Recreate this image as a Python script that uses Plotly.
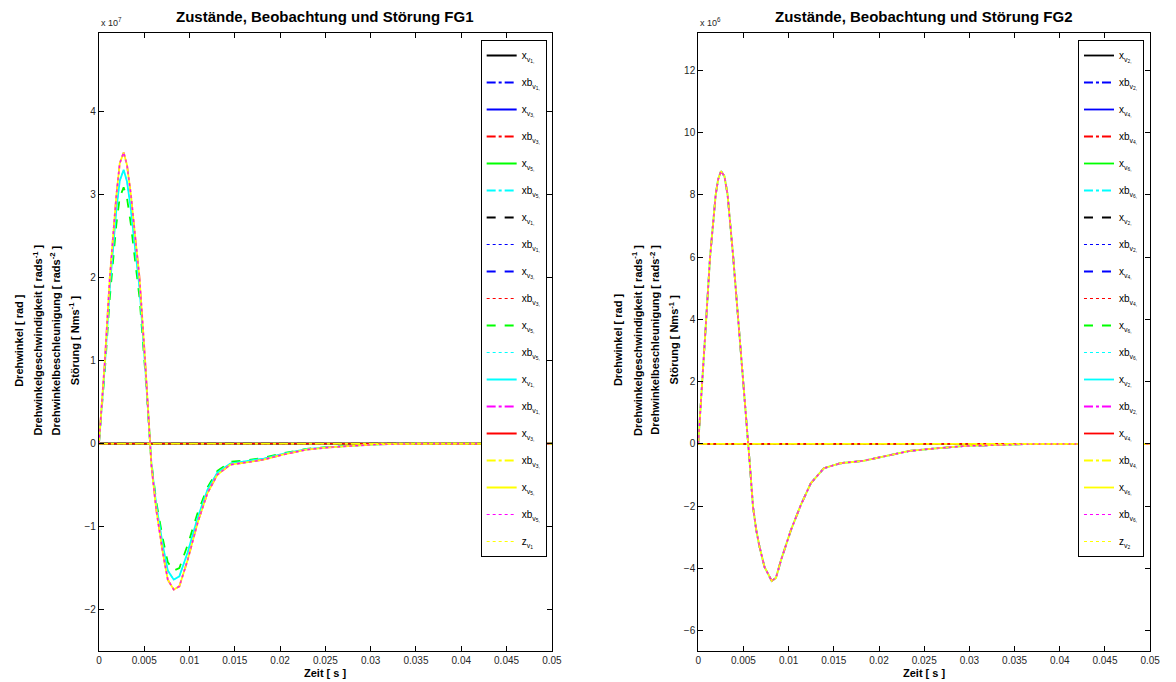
import plotly.graph_objects as go

# ---------------- data ----------------
# FG1 (values in units of 1e7)
t_fg1 = [0, 0.0003, 0.00066, 0.0012, 0.0015, 0.00193, 0.0023, 0.00273, 0.0031, 0.00353,
         0.004, 0.00448, 0.0051, 0.00562, 0.0058, 0.00633, 0.00706, 0.0076, 0.00826, 0.00888,
         0.0098, 0.01088, 0.01197, 0.01307, 0.0145, 0.0163, 0.0182, 0.0203, 0.0229, 0.0254,
         0.0284, 0.0305, 0.035, 0.05]
big_fg1 = [0, 0.45, 1.0, 2.0, 2.45, 3.0, 3.38, 3.51, 3.36, 3.0,
           2.5, 2.0, 1.0, 0, -0.27, -0.80, -1.32, -1.64, -1.76, -1.72,
           -1.40, -0.96, -0.60, -0.375, -0.254, -0.226, -0.193, -0.133, -0.073, -0.045,
           -0.024, -0.01, 0, 0]
cyan_fg1 = [0, 0.43, 0.95, 1.88, 2.31, 2.83, 3.17, 3.30, 3.16, 2.82,
            2.35, 1.88, 0.94, 0, -0.25, -0.74, -1.23, -1.53, -1.64, -1.60,
            -1.31, -0.90, -0.56, -0.35, -0.24, -0.21, -0.18, -0.125, -0.068, -0.042,
            -0.022, -0.009, 0, 0]
green_fg1 = [0, 0.40, 0.89, 1.76, 2.16, 2.65, 2.97, 3.09, 2.96, 2.64,
             2.2, 1.76, 0.88, 0, -0.23, -0.70, -1.15, -1.43, -1.53, -1.50,
             -1.22, -0.84, -0.53, -0.33, -0.22, -0.20, -0.17, -0.117, -0.064, -0.04,
             -0.021, -0.009, 0, 0]

# FG2 (values in units of 1e6)
t_fg2 = [0, 0.0002, 0.0005, 0.00088, 0.00131, 0.00193, 0.0022, 0.00252, 0.0029, 0.00325,
         0.00387, 0.00441, 0.00478, 0.0052, 0.0055, 0.0057, 0.00606, 0.00642, 0.00678, 0.00733,
         0.00813, 0.0086, 0.00916, 0.01025, 0.01135, 0.01244, 0.0139, 0.01572, 0.01827, 0.02046,
         0.02338, 0.0263, 0.02954, 0.0332, 0.037, 0.05]
big_fg2 = [0, 1.0, 2.5, 4.0, 6.0, 8.0, 8.5, 8.76, 8.6, 8.0,
           6.0, 4.1, 2.75, 1.2, 0, -0.62, -2.02, -2.77, -3.30, -3.95,
           -4.40, -4.30, -3.73, -2.77, -1.96, -1.27, -0.78, -0.62, -0.54, -0.41,
           -0.225, -0.14, -0.064, -0.03, 0, 0]

t_zero = [0, 0.05]
zero_vals = [0, 0]

x_ticks = [0, 0.005, 0.01, 0.015, 0.02, 0.025, 0.03, 0.035, 0.04, 0.045, 0.05]
x_ticktext = ["0", "0.005", "0.01", "0.015", "0.02", "0.025", "0.03", "0.035", "0.04", "0.045", "0.05"]
y1_ticks = [-2, -1, 0, 1, 2, 3, 4]
y2_ticks = [-6, -4, -2, 0, 2, 4, 6, 8, 10, 12]

# legend entries: (prefix, variable index, color, dash, which curve)
entries_fg1 = [
    ("x", "1", "k", "solid", "zero"), ("xb", "1", "b", "dashdot", "zero"),
    ("x", "3", "b", "solid", "zero"), ("xb", "3", "r", "dashdot", "zero"),
    ("x", "5", "g", "solid", "zero"), ("xb", "5", "c", "dashdot", "zero"),
    ("x", "1", "k", "dash", "zero"), ("xb", "1", "b", "dot", "zero"),
    ("x", "3", "b", "dash", "zero"), ("xb", "3", "r", "dot", "zero"),
    ("x", "5", "g", "dash", "green"), ("xb", "5", "c", "dot", "cyan"),
    ("x", "1", "c", "solid", "cyan"), ("xb", "1", "m", "dashdot", "big"),
    ("x", "3", "r", "solid", "zero"), ("xb", "3", "y", "dashdot", "zero"),
    ("x", "5", "y", "solid", "big"), ("xb", "5", "m", "dot", "big"),
    ("z", "1", "y", "dot", "zero"),
]
entries_fg2 = [
    ("x", "2", "k", "solid", "zero"), ("xb", "2", "b", "dashdot", "zero"),
    ("x", "4", "b", "solid", "zero"), ("xb", "4", "r", "dashdot", "zero"),
    ("x", "6", "g", "solid", "zero"), ("xb", "6", "c", "dashdot", "zero"),
    ("x", "2", "k", "dash", "zero"), ("xb", "2", "b", "dot", "zero"),
    ("x", "4", "b", "dash", "zero"), ("xb", "4", "r", "dot", "zero"),
    ("x", "6", "g", "dash", "big"), ("xb", "6", "c", "dot", "big"),
    ("x", "2", "c", "solid", "big"), ("xb", "2", "m", "dashdot", "big"),
    ("x", "4", "r", "solid", "zero"), ("xb", "4", "y", "dashdot", "zero"),
    ("x", "6", "y", "solid", "big"), ("xb", "6", "m", "dot", "big"),
    ("z", "2", "y", "dot", "zero"),
]

COLORS = {"k": "#000000", "b": "#0000FF", "r": "#FF0000", "g": "#00FF00",
          "c": "#00FFFF", "m": "#FF00FF", "y": "#FFFF00"}
WIDTHS = {"solid": 1.8, "dash": 1.8, "dashdot": 1.8, "dot": 1.2}

FONT = "Liberation Sans, Arial, Helvetica, sans-serif"

fig = go.Figure()

curves1 = {"zero": (t_zero, zero_vals), "big": (t_fg1, big_fg1),
           "cyan": (t_fg1, cyan_fg1), "green": (t_fg1, green_fg1)}
curves2 = {"zero": (t_zero, zero_vals), "big": (t_fg2, big_fg2)}


def label(prefix, var, is_z):
    if is_z:
        return f"{prefix}<sub>v<sub>{var}</sub></sub>"
    return f"{prefix}<sub>v<sub>{var},</sub></sub>"


for i, (pre, var, col, dash, curve) in enumerate(entries_fg1):
    xs, ys = curves1[curve]
    fig.add_trace(go.Scatter(
        x=xs, y=ys, mode="lines", name=label(pre, var, pre == "z"),
        line=dict(color=COLORS[col], dash=dash, width=WIDTHS[dash]),
        xaxis="x", yaxis="y", legend="legend", legendgroup=f"a{i}"))

for i, (pre, var, col, dash, curve) in enumerate(entries_fg2):
    xs, ys = curves2[curve]
    fig.add_trace(go.Scatter(
        x=xs, y=ys, mode="lines", name=label(pre, var, pre == "z"),
        line=dict(color=COLORS[col], dash=dash, width=WIDTHS[dash]),
        xaxis="x2", yaxis="y2", legend="legend2", legendgroup=f"b{i}"))

W, H = 1176, 682
L1, R1 = 97, 555
L2, R2 = 703, 1160
TOP, BOT = 33, 651
ydom = [1 - BOT / H, 1 - TOP / H]

axis_common = dict(showline=True, linecolor="#000000", linewidth=1, mirror="ticks",
                   ticks="inside", ticklen=5, tickcolor="#000000", showgrid=False,
                   zeroline=False, tickfont=dict(family=FONT, size=10, color="#262626"))

legend_common = dict(bgcolor="#FFFFFF", bordercolor="#000000", borderwidth=1,
                     font=dict(family=FONT, size=10, color="#000000"),
                     xref="paper", yref="paper", xanchor="left", yanchor="top",
                     tracegroupgap=8, itemwidth=30)

fig.update_layout(
    width=W, height=H, autosize=False,
    margin=dict(l=0, r=0, t=0, b=0),
    paper_bgcolor="#FFFFFF", plot_bgcolor="#FFFFFF",
    font=dict(family=FONT, color="#000000"),
    xaxis=dict(domain=[L1 / W, R1 / W], range=[0, 0.05], tickvals=x_ticks, ticktext=x_ticktext,
               anchor="y", **axis_common),
    yaxis=dict(domain=ydom, range=[-2.5, 4.95], tickvals=y1_ticks, anchor="x", **axis_common),
    xaxis2=dict(domain=[L2 / W, R2 / W], range=[0, 0.05], tickvals=x_ticks, ticktext=x_ticktext,
                anchor="y2", **axis_common),
    yaxis2=dict(domain=ydom, range=[-6.65, 13.2], tickvals=y2_ticks, anchor="x2", **axis_common),
    legend=dict(x=483 / W, y=1 - 40 / H, **legend_common),
    legend2=dict(x=1087 / W, y=1 - 40 / H, **legend_common),
    showlegend=True,
)

ylabel_lines = ["<b>Drehwinkel [ rad ]</b>",
                "<b>Drehwinkelgeschwindigkeit [ rads<sup>-1</sup> ]</b>",
                "<b>Drehwinkelbeschleunigung [ rads<sup>-2</sup> ]</b>",
                "<b>Störung [ Nms<sup>-1</sup> ]</b>"]
ylabel_x = [16, 35, 53, 72]

annotations = []
for left, right, title, mult in [(L1, R1, "Zustände, Beobachtung und Störung FG1", "7"),
                                 (L2, R2, "Zustände, Beobachtung und Störung FG2", "6")]:
    annotations.append(dict(text=f"<b>{title}</b>", x=(left + right) / 2 / W, y=1 - 17 / H,
                            xref="paper", yref="paper", showarrow=False,
                            font=dict(family=FONT, size=15, color="#000000"),
                            xanchor="center", yanchor="middle"))
    annotations.append(dict(text=f"x 10<sup>{mult}</sup>", x=left / W, y=1 - 22 / H,
                            xref="paper", yref="paper", showarrow=False,
                            font=dict(family=FONT, size=9, color="#262626"),
                            xanchor="left", yanchor="middle"))
    annotations.append(dict(text="<b>Zeit [ s ]</b>", x=(left + right) / 2 / W, y=1 - 673 / H,
                            xref="paper", yref="paper", showarrow=False,
                            font=dict(family=FONT, size=11, color="#000000"),
                            xanchor="center", yanchor="middle"))
    for txt, xo in zip(ylabel_lines, ylabel_x):
        annotations.append(dict(text=txt, x=(left - 97 + xo) / W, y=1 - 340 / H,
                                xref="paper", yref="paper", showarrow=False, textangle=-90,
                                font=dict(family=FONT, size=11, color="#000000"),
                                xanchor="center", yanchor="middle"))

fig.update_layout(annotations=annotations)

fig.write_html("out.html", config={"displayModeBar": False},
               post_script="document.body.style.margin='0px';")
